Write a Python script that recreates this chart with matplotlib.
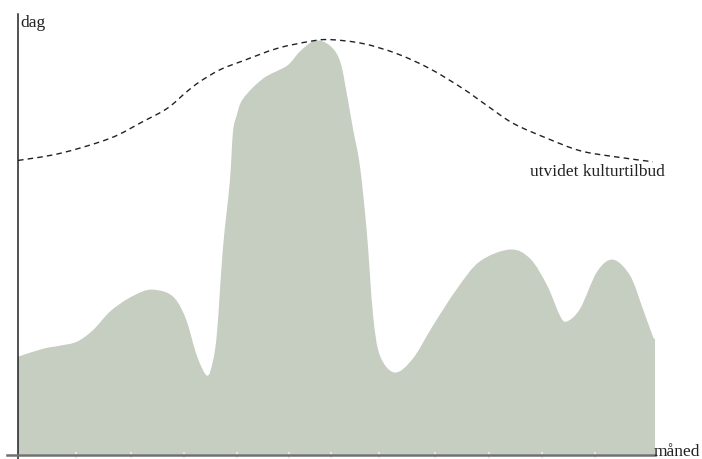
import matplotlib
matplotlib.use("Agg")
import matplotlib.pyplot as plt
from matplotlib.path import Path
from matplotlib.patches import PathPatch

# area curve: month position (0-12) and level
area_x = [0.00, 0.47, 0.79, 1.11, 1.41, 1.73, 2.05, 2.35, 2.54, 2.81, 3.00, 3.18,
          3.37, 3.56, 3.67, 3.75, 3.86, 3.99, 4.05, 4.12, 4.24, 4.62, 5.07, 5.31,
          5.60, 5.88, 6.07, 6.20, 6.31, 6.44, 6.57, 6.69, 6.82, 7.10, 7.44, 7.82,
          8.27, 8.70, 9.27, 9.65, 9.97, 10.21, 10.34, 10.59, 10.91, 11.21, 11.53,
          11.77, 11.96, 12.00]
area_y = [22.2, 24.0, 24.7, 25.6, 28.2, 32.4, 35.2, 37.0, 37.4, 36.7, 34.7, 30.2,
          22.4, 17.9, 21.1, 27.9, 46.7, 61.9, 73.2, 76.9, 80.7, 85.3, 88.2, 91.4,
          93.9, 92.7, 89.1, 81.4, 73.9, 65.5, 50.6, 31.5, 22.4, 18.6, 21.8, 29.3,
          37.6, 43.8, 46.5, 44.4, 38.3, 31.5, 30.2, 33.1, 41.5, 44.2, 40.6,
          33.1, 26.8, 26.3]

# dashed curve "utvidet kulturtilbud"
dash_x = [0.00, 0.79, 1.73, 2.35, 2.81, 3.18, 3.43, 3.81, 4.24, 4.88, 5.50, 5.88,
          6.50, 7.14, 7.76, 8.38, 8.84, 9.33, 9.97, 10.59, 11.21, 11.96]
dash_y = [66.7, 68.3, 71.7, 75.5, 78.5, 82.3, 84.6, 87.3, 89.3, 92.1, 93.7, 94.1,
          93.2, 90.9, 87.5, 83.0, 79.1, 75.1, 71.7, 68.9, 67.6, 66.4]

# month boundary ticks on the time axis
tick_x = [1.09, 2.13, 3.13, 4.13, 5.11, 5.90, 6.80, 7.86, 8.87, 9.87, 10.87]


def smooth_path(xs, ys):
    # catmull-rom through the points, drawn as cubic bezier segments
    pts = list(zip(xs, ys))
    verts = [pts[0]]
    codes = [Path.MOVETO]
    n = len(pts)
    for i in range(n - 1):
        p0 = pts[max(i - 1, 0)]
        p1 = pts[i]
        p2 = pts[i + 1]
        p3 = pts[min(i + 2, n - 1)]
        c1 = (p1[0] + (p2[0] - p0[0]) / 6, p1[1] + (p2[1] - p0[1]) / 6)
        c2 = (p2[0] - (p3[0] - p1[0]) / 6, p2[1] - (p3[1] - p1[1]) / 6)
        verts += [c1, c2, p2]
        codes += [Path.CURVE4] * 3
    return verts, codes


plt.rcParams['font.family'] = ['Liberation Serif', 'DejaVu Serif']

fig = plt.figure(figsize=(7.02, 4.60), dpi=100)
ax = fig.add_axes([7.4 / 702, 0, 647.6 / 702, 445.4 / 460])
ax.set_xlim(-0.2, 12)
ax.set_ylim(-1, 100)

# filled area
v, c = smooth_path(area_x, area_y)
v += [(area_x[-1], 0), (area_x[0], 0), (area_x[0], area_y[0])]
c += [Path.LINETO, Path.LINETO, Path.CLOSEPOLY]
ax.add_patch(PathPatch(Path(v, c), facecolor='#c6cdc1', edgecolor='none', zorder=1))

# dashed line
v, c = smooth_path(dash_x, dash_y)
ax.add_patch(PathPatch(Path(v, c), facecolor='none', edgecolor='#222222',
                       linewidth=1, linestyle=(0, (4, 3)), zorder=3))

for s in ['top', 'right']:
    ax.spines[s].set_visible(False)
ax.spines['left'].set_position(('data', 0))
ax.spines['left'].set_color('#222222')
ax.spines['left'].set_linewidth(1.1)
ax.spines['bottom'].set_position(('data', 0))
ax.spines['bottom'].set_color('#707070')
ax.spines['bottom'].set_linewidth(1.8)

ax.set_xticks(tick_x)
ax.set_yticks([])
ax.tick_params(axis='x', direction='inout', length=4, width=1.5, color='#e6e6e6',
               labelbottom=False)

ax.text(0.04, 97.1, 'dag', fontsize=12.5, color='#222222', va='baseline', ha='left',
        clip_on=False)
ax.text(11.98, 0, 'måned', fontsize=12.5, color='#222222', va='baseline', ha='left',
        clip_on=False)
ax.text(9.65, 63.3, 'utvidet kulturtilbud', fontsize=12.5, color='#222222',
        va='baseline', ha='left')

fig.savefig('out.png', dpi=100)
